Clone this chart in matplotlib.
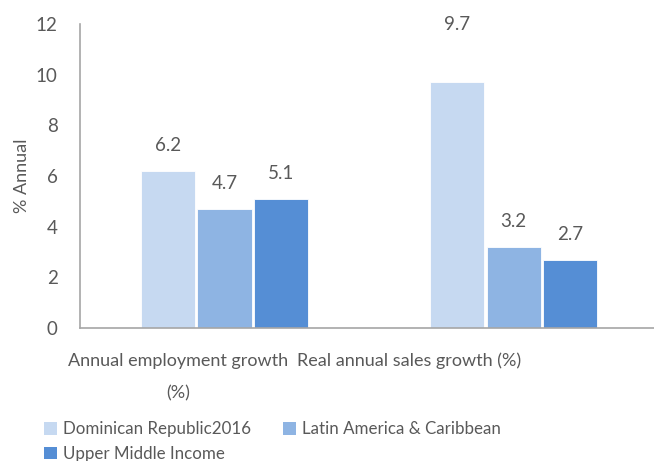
import matplotlib
matplotlib.use("Agg")
import matplotlib.pyplot as plt
import matplotlib.transforms as mtransforms
from matplotlib.patches import Patch
import numpy as np

categories = ["Annual employment growth\n(%)", "Real annual sales growth (%)"]
series_names = ["Dominican Republic2016", "Latin America & Caribbean", "Upper Middle Income"]
dominican = [6.2, 9.7]
latam = [4.7, 3.2]
umi = [5.1, 2.7]
colors = ["#C6D9F1", "#8EB4E3", "#558ED5"]
yticks = [0, 2, 4, 6, 8, 10, 12]

plt.rcParams['font.family'] = ['Lato', 'DejaVu Sans']
txt = "#595959"
fs = 13

W, H = 654, 461
fig = plt.figure(figsize=(W/100, H/100), dpi=100)
ax = fig.add_axes([80/W, 1-328/H, (654-80)/W, (328-24)/H])

x = np.arange(len(categories))
bw = 0.187
step = 0.197
series = [dominican, latam, umi]
for i, (vals, c, name) in enumerate(zip(series, colors, series_names)):
    pos = x + (i-1)*step
    ax.bar(pos, vals, width=bw, color=c, edgecolor="white", linewidth=0.6, label=name)
    for p, v in zip(pos, vals):
        yl = v + 1.0 if v < 9 else 12.0
        ax.text(p, yl, f"{v}", ha="center", va="center", fontsize=13.5, color=txt, clip_on=False)

ax.set_xlim(-0.5, 1.486)
ax.set_ylim(0, 12)
ax.set_yticks(yticks)
ax.set_yticklabels([str(t) for t in yticks], fontsize=13.5, color=txt)
ax.tick_params(axis="y", length=0, pad=16)
ax.set_xticks([])
for s in ["top", "right"]:
    ax.spines[s].set_visible(False)
for s in ["left", "bottom"]:
    ax.spines[s].set_color("#A6A6A6")
    ax.spines[s].set_linewidth(1.2)

ax.set_ylabel("% Annual", fontsize=13, color=txt)
ax.yaxis.set_label_coords(-50 / (654-80), 0.5)

trans = mtransforms.blended_transform_factory(ax.transData, fig.transFigure)
label_x = [-0.16, 0.64]
ax.text(label_x[0], 1-361/H, "Annual employment growth", ha="center", va="center",
        fontsize=fs, color=txt, transform=trans)
ax.text(label_x[0], 1-393/H, "(%)", ha="center", va="center",
        fontsize=fs, color=txt, transform=trans)
ax.text(label_x[1], 1-361/H, "Real annual sales growth (%)", ha="center", va="center",
        fontsize=fs, color=txt, transform=trans)

order = [0, 2, 1]
handles = [Patch(facecolor=colors[k], edgecolor="none") for k in order]
labels = [series_names[k] for k in order]
leg = fig.legend(handles, labels, loc="upper left", bbox_to_anchor=(36/W, 1-413/H),
                 ncol=2, frameon=False, fontsize=12.2, handlelength=0.75, handleheight=0.75,
                 handletextpad=0.35, columnspacing=1.9, labelspacing=0.5, borderpad=0)
for t in leg.get_texts():
    t.set_color(txt)

fig.savefig("out.png", dpi=100)
